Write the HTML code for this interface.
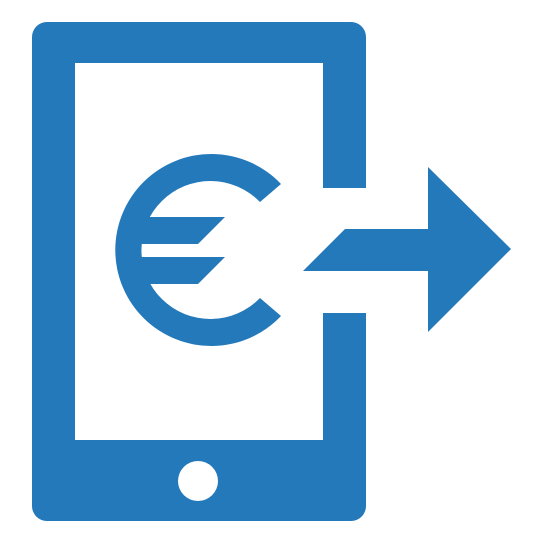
<!DOCTYPE html>
<html><head><style>html,body{margin:0;padding:0;background:#fff}svg{display:block}</style></head>
<body>
<svg width="543" height="543" viewBox="0 0 543 543" xmlns="http://www.w3.org/2000/svg">
<g fill="#2479BB">
<path fill-rule="evenodd" d="M47,22 H351 A15,15 0 0 1 366,37 V188 H323 V63 H75 V440 H323 V313 H366 V506 A15,15 0 0 1 351,521 H47 A15,15 0 0 1 32,506 V37 A15,15 0 0 1 47,22 Z"/>
<path d="M281,184 A96,96 0 1 0 281,316 L260,298 A69,69 0 1 1 260,202 Z"/>
<polygon points="140,217 225,217 198,244 140,244"/>
<polygon points="140,257 225,257 198,284 140,284"/>
<polygon points="345,229 428,229 428,167 511,249 428,332 428,271 303,271"/>
</g>
<circle cx="198" cy="481" r="20" fill="#fff"/>
</svg>
</body></html>
